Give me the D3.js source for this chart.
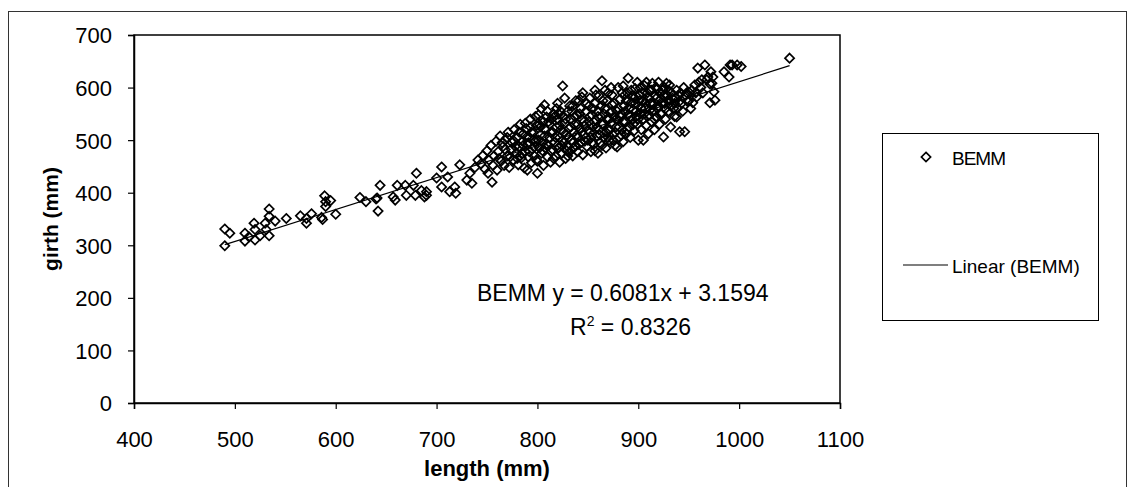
<!DOCTYPE html>
<meta charset="utf-8">
<style>
    body { margin: 0; background: #fff; }
    text { font-family: "Liberation Sans", Arial, sans-serif; fill: #000; }
</style>
<svg width="1128" height="487"></svg>

<script src="https://d3js.org/d3.v7.min.js"></script>
<script>
    // length / girth pairs (mm)
    var sparsePoints = [
        [490,331],[495,323],[490,299],[510,323],[510,308],[514,316],[519,342],[520,330],[520,310],[525,318],
        [530,342],[531,330],[534,369],[534,355],[534,318],[540,346],[551,351],[565,356],[571,351],[571,342],
        [576,360],[586,353],[587,349],[589,394],[590,383],[595,385],[590,374],[600,359],[624,391],[630,383],
        [640,388],[642,365],[644,414],[641,390],[657,392],[661,414],[659,386],[669,414],[670,395],[677,414],
        [680,437],[679,395],[685,404],[690,402],[690,395],[688,392],[700,428],[705,449],[705,411],[713,402],
        [718,411],[719,399],[711,430],[723,453],[730,424],[735,418],[733,437],[755,420],[751,437]
    ];
    var clusterPoints = [
        [738,448],[741,462],[744,455],[746,471],[748,445],[750,480],[752,462],[754,490],[756,452],[757,470],
        [759,498],[760,443],[761,478],[763,508],[764,460],[766,488],[767,452],[768,500],[770,470],[771,515],
        [772,448],[774,483],[775,495],[776,462],[777,520],[779,475],[780,505],
        [781,453],[782,488],[783,530],[784,466],[785,498],[786,512],[787,447],[788,478],[789,522],[790,443],
        [790,492],[791,468],[792,505],[793,540],[794,457],[795,483],[796,515],[797,470],[798,498],[799,528],
        [800,437],[800,460],[801,548],[802,485],[803,510],[804,475],[805,495],[806,535],[806,452],[807,567],
        [808,520],[809,544],[810,468],
        [811,490],[812,505],[812,530],[813,458],[814,478],[815,515],[816,550],[817,496],[818,470],[819,525],
        [820,570],[820,540],[821,485],[822,458],[822,505],[823,520],[824,475],[825,603],[825,545],[826,495],
        [827,532],[828,465],[829,510],[830,555],[830,488],[831,522],[832,478],[833,540],[834,500],[835,565],
        [835,470],[836,515],[837,530],[838,490],[839,548],[840,505],[840,478],[841,575],
        [842,522],[843,495],[844,582],[844,540],[845,472],[846,510],[847,528],[848,555],[849,488],[850,500],
        [851,535],[851,565],[852,515],[853,478],[854,548],[855,525],[856,492],[857,570],[858,586],[858,538],
        [859,508],[860,475],[860,555],[861,520],[862,495],[863,545],[864,613],[864,530],[865,575],[866,505],
        [867,560],[868,485],[869,540],[870,520],[870,590],[871,500],[872,552],[873,532],[874,586],[874,568],
        [875,510],[876,545],[877,490],[878,525],[879,487],[880,560],[880,538],[881,505],[882,578],[883,550],
        [884,520],[885,497],[885,603],[886,565],[887,535],[888,512],[889,590],[890,618],[890,548],[891,525],
        [892,505],[893,572],[894,540],[895,558],[896,518],[897,598],[898,545],[899,530],[900,500],[900,565],
        [901,585],[902,550],[903,520],[904,575],[905,500],[905,540],[906,604],
        [907,560],[908,528],[909,590],[910,512],[911,548],[912,570],[913,535],[914,608],[915,555],[916,520],
        [917,585],[918,545],[919,598],[920,565],[921,530],[922,578],[923,550],[924,595],[925,506],[926,570],
        [927,540],[928,608],[929,585],[930,555],[931,575],[932,525],[933,590],[935,560],[936,545],[937,580],
        [938,544],[939,561],[940,572],[941,516],[942,590],[944,555],[946,516],[947,585],
        [949,573],[951,590],[952,560],[954,571],[956,605],[958,582],[959,637],[962,600],[964,590],[966,643],
        [968,615],[969,620],[971,571],[971,607],[973,608],[974,620],[975,592],[976,576],[972,630]
    ];
    var corePoints = [
        [783,470],[786,490],[789,505],[792,478],[794,515],[797,488],[799,462],[801,500],[803,525],[805,480],
        [807,508],[809,492],[811,535],[813,515],[815,482],[817,545],[818,505],[820,490],[822,528],[823,555],
        [825,500],[826,515],[828,540],[830,470],[831,505],[833,525],[834,555],[836,485],[837,545],[839,510],
        [840,530],[841,492],[843,560],[844,515],[846,535],[847,498],[849,570],[850,520],[852,545],[853,505],
        [855,560],[856,535],[857,480],[859,525],[860,545],[862,510],[863,565],[865,530],[866,550],[868,515],
        [869,575],[871,540],[872,520],[874,555],[875,500],[876,570],[878,540],[879,555],[881,525],[882,545],
        [884,590],[885,535],[887,555],[888,575],[889,520],[891,560],[892,545],[894,585],[895,530],[897,570],
        [898,555],[900,540],[901,575],[903,560],[904,590],[906,550],[907,572],[909,545],[910,580],[912,558],
        [913,595],[915,568],[916,540],[918,580],[919,560],[921,590],[922,550],[924,570],[925,585],[927,560],
        [929,575],[930,595],[932,565],[934,580],[936,570],[938,595],[940,585],[943,570],[945,600],[948,590],
        [950,575],[953,595],[957,590],[960,610],[963,615],
        [762,465],[765,495],[768,482],[770,505],[773,468],[776,500],[778,488],[780,465],[782,515],[785,475],
        [788,532],[791,495],[793,525],[796,500],[798,545],[802,530],[804,560],[808,485],[810,555],[814,540],
        [816,465],[819,560],[821,550],[824,490],[827,580],[829,480],[832,565],[835,495],[838,575],[842,550],
        [845,590],[848,505],[852,580],[854,495],[857,595],[861,585],[864,490],[867,595],[870,505],[873,600],
        [877,515],[880,600],[883,510],[886,585],[893,595],[896,580],[899,610],[902,600],[908,610],[911,595],
        [917,600],[920,610],[926,600],[931,605]
    ];
    var tailPoints = [[985,630],[990,620],[991,643],[993,643],[998,643],[1002,640],[1050,656]];

    var trendSlope = 0.6081,
        trendIntercept = 3.1594,
        trendRange = [490, 1050],
        rSquared = "0.8326";

    var xTicks = [400, 500, 600, 700, 800, 900, 1000, 1100],
        yTicks = [0, 100, 200, 300, 400, 500, 600, 700];

    var svg = d3.select("svg");

    var x = d3.scaleLinear().domain([400, 1100]).range([134, 840]),
        y = d3.scaleLinear().domain([0, 700]).range([403, 35]);

    // outer chart border
    svg.append("rect")
        .attr("x", 8.5).attr("y", 11.5)
        .attr("width", 1118).attr("height", 490)
        .attr("fill", "none").attr("stroke", "#333").attr("stroke-width", 1);

    // plot area frame
    svg.append("rect")
        .attr("x", x(400)).attr("y", y(700))
        .attr("width", x(1100) - x(400)).attr("height", y(0) - y(700))
        .attr("fill", "none").attr("stroke", "#000").attr("stroke-width", 1.5);

    var xAxis = svg.append("g")
        .attr("transform", "translate(0," + y(0) + ")")
        .call(d3.axisBottom(x).tickValues(xTicks).tickSize(6).tickPadding(22).tickFormat(d3.format("d")));
    var yAxis = svg.append("g")
        .attr("transform", "translate(" + x(400) + ",0)")
        .call(d3.axisLeft(y).tickValues(yTicks).tickSize(6).tickPadding(16).tickFormat(d3.format("d")));

    [xAxis, yAxis].forEach(function (g) {
        g.select(".domain").attr("stroke", "#000").attr("stroke-width", 1.5);
        g.selectAll(".tick line").attr("stroke", "#000").attr("stroke-width", 1.2);
        g.selectAll(".tick text")
            .attr("fill", "#000")
            .style("font-size", "22px")
            .style("font-family", "'Liberation Sans', Arial, sans-serif");
    });
    yAxis.selectAll(".tick text").attr("dy", "0.36em");

    // axis titles
    svg.append("text")
        .attr("x", (x(400) + x(1100)) / 2).attr("y", 476)
        .attr("text-anchor", "middle")
        .style("font-size", "22px").style("font-weight", "bold")
        .text("length (mm)");
    svg.append("text")
        .attr("transform", "translate(58," + (y(0) + y(700)) / 2 + ") rotate(-90)")
        .attr("text-anchor", "middle")
        .style("font-size", "21px").style("font-weight", "bold")
        .text("girth (mm)");

    var diamond = "M0,-4.6L4.6,0L0,4.6L-4.6,0Z";
    var allPoints = sparsePoints.concat(clusterPoints, corePoints, tailPoints);

    svg.append("g").selectAll("path")
        .data(allPoints)
        .enter()
        .append("path")
        .attr("d", diamond)
        .attr("transform", function (d) { return "translate(" + x(d[0]) + "," + y(d[1]) + ")"; })
        .attr("fill", "none")
        .attr("stroke", "#000")
        .attr("stroke-width", 1.7);

    // linear trend line
    var line = d3.line()
        .x(function (d) { return x(d); })
        .y(function (d) { return y(trendSlope * d + trendIntercept); });
    svg.append("path")
        .datum(trendRange)
        .attr("d", line)
        .attr("fill", "none")
        .attr("stroke", "#000")
        .attr("stroke-width", 1.2);

    // equation label
    svg.append("text")
        .attr("x", 477).attr("y", 301)
        .style("font-size", "23px")
        .text("BEMM y = " + trendSlope + "x + " + trendIntercept);
    var r2 = svg.append("text")
        .attr("x", 570).attr("y", 335)
        .style("font-size", "23px");
    r2.append("tspan").text("R");
    r2.append("tspan").attr("dy", -9).style("font-size", "14px").text("2");
    r2.append("tspan").attr("dy", 9).text(" = " + rSquared);

    // legend
    var legend = svg.append("g");
    legend.append("rect")
        .attr("x", 882.5).attr("y", 133.5)
        .attr("width", 216).attr("height", 187)
        .attr("fill", "none").attr("stroke", "#000").attr("stroke-width", 1);
    legend.append("path")
        .attr("d", diamond)
        .attr("transform", "translate(926,157)")
        .attr("fill", "none").attr("stroke", "#000").attr("stroke-width", 1.7);
    legend.append("text")
        .attr("x", 952).attr("y", 165)
        .style("font-size", "19px").style("letter-spacing", "-1px")
        .text("BEMM");
    legend.append("line")
        .attr("x1", 903).attr("x2", 948).attr("y1", 265).attr("y2", 265)
        .attr("stroke", "#000").attr("stroke-width", 1.2);
    legend.append("text")
        .attr("x", 952).attr("y", 273)
        .style("font-size", "19px")
        .text("Linear (BEMM)");
</script>
